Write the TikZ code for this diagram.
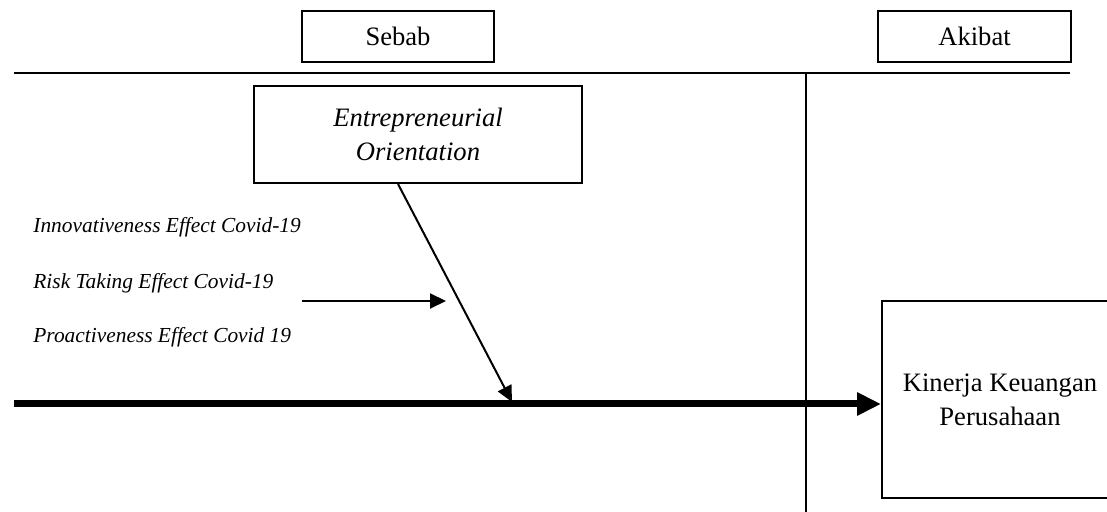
\documentclass[tikz,border=0pt]{standalone}
\usepackage{fontspec}
\setmainfont{Liberation Serif}
\usetikzlibrary{arrows.meta}
\begin{document}
\begin{tikzpicture}[x=0.5pt,y=-0.5pt,
  box/.style={draw,line width=1pt,inner sep=0pt,align=center,font=\fontsize{13.3}{17}\selectfont},
  side/.style={anchor=west,inner sep=0pt,font=\fontsize{10.7}{13}\selectfont\itshape},
  sep/.style={line width=1pt},
  spine/.style={line width=3.5pt,-{Triangle[length=12pt,width=11pt]}},
  thin/.style={line width=1pt,-{Triangle[length=8pt,width=7.5pt]}}]
\useasboundingbox (0,0) rectangle (1107,512);
\node[box,minimum width=96pt,minimum height=25.5pt] (sebab) at (398,36.5) {Sebab};
\node[box,minimum width=96.5pt,minimum height=25.5pt] (akibat) at (974.5,36.5) {Akibat};
\coordinate (hl) at (14,73);
\coordinate (hr) at (1070,73);
\draw[sep] (hl) -- (hr);
\coordinate (vt) at (806,73);
\coordinate (vb) at (806,512);
\draw[sep] (vt) -- (vb);
\node[box,minimum width=164pt,minimum height=48.5pt] (eo) at (418,134.5) {\itshape Entrepreneurial\\\itshape Orientation};
\node[box,minimum width=118pt,minimum height=98.5pt] (kkp) at (1000,399.5) {Kinerja Keuangan\\Perusahaan};
\node[side] (inn) at (33,227) {Innovativeness Effect Covid-19};
\node[side] (risk) at (33,283) {Risk Taking Effect Covid-19};
\node[side] (pro) at (33,337) {Proactiveness Effect Covid 19};
\coordinate (spl) at (14,404);
\draw[spine] (spl) -- (spl -| kkp.west);
\coordinate (dtip) at (512,402);
\draw[thin] ([xshift=-10pt]eo.south) -- (dtip);
\coordinate (rs) at (302,301);
\coordinate (re) at (446,301);
\draw[thin] (rs) -- (re);
\end{tikzpicture}
\end{document}
